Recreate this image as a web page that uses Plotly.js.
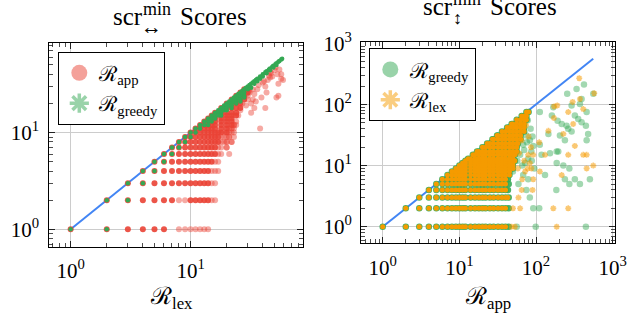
<!DOCTYPE html>
<html><head><meta charset="utf-8">
<script src="https://cdn.plot.ly/plotly-3.0.1.min.js"></script>
<style>html,body{margin:0;padding:0;background:#fff}#chart{width:630px;height:320px}</style>
</head><body><div id="chart"></div>
<script>
// ================= DATA =================
// ---- Left panel: x = R_lex, y = R_app (red) / R_greedy (green) ----
const appRowY = [1,2,3,4,5,6,7,8,9,10,11,12,13,14,15,16,18,20,22,24,26,28];
const appRowX = [
  [1,2,3,4,5,6],
  [2,3,4,5,6,7,10,11,12,13,14],
  [3,4,5,6,7,8,9,10,11,12,13,14],
  [4,5,6,7,8,9,10,11,12,13,14],
  [5,6,7,8,9,10,11,12,13,14,15],
  [6,7,8,9,10,11,12,13,14,15,16],
  [7,8,9,10,11,12,13,14,15,16],
  [8,9,10,11,12,13,14,15,16,17],
  [9,10,11,12,13,14,15,16,17],
  [10,11,12,13,14,15,16,17,18,20],
  [11,12,13,14,15,16,18,20],
  [12,13,14,15,16,18,20,22],
  [13,14,15,16,18,20,22],
  [14,15,16,18,20,22],
  [15,16,18,20,22,24],
  [16,18,20,22,24],
  [18,20,22,24,26],
  [20,22,24,26],
  [22,24,26,28],
  [24,26,28],
  [26,28,30],
  [28,30]
];
const appFaintRowY = [1,2,3,4,5,6,7,8,9,10,11,12];
const appFaintRowX = [
  [8,9,10,11,12,13,14],[8,9,15,16],[15,16],[15,16,17],[16,17],[17,18],
  [17,18,20],[18,19,20,22],[18,19,20,21],[19,21,22,23],[21,22,23],[23,24]
];
const appScatter = [
  [29,19],[30,24],[31,27],[32,16],[33,22],[34,25],[34,18],[35,21],[36,28],[38,11],
  [39,23],[40,33],[42,18],[42,30],[43,26],[44,35],[46,37],[46,42],[48,38],[50,44],
  [52,23],[53,40],[54,24],[54,32],[55,45],[57,36],[57,40],[59,35],[51,47],[47,41],
  [45,39],[41,34],[37,31],[33,28],[31,26],[29,25],[30,22],[32,20],[27,20],[26,17],
  [25,15],[24,13],[23,12],[22,11],[20,8],[22,8],[21,9],[23,9],[20,7],[21,6]
];
const greedyLeft = [
  [1,1],[2,1],[2,2],[3,2],[3,3],[4,3],[4,4],[5,4],[5,5],[6,5],[6,6],[7,6],[7,7],[8,7],
  [8,8],[9,8],[9,9],[10,9],[10,10],[11,10],[11,11],[12,11],[12,12],[13,12],[13,13],
  [14,13],[14,12],[14,14],[15,14],[15,13],[15,15],[16,15],[16,14],[16,16],[17,16],
  [17,15],[17,17],[18,18],[18,17],[18,16],[18,15],[19,19],[19,18],[19,17],[20,20],[20,19],
  [20,18],[20,17],[21,21],[21,19],[22,22],[22,20],[22,19],[22,18],[23,23],[23,21],[24,24],
  [24,22],[24,21],[24,20],[25,25],[25,23],[26,26],[26,24],[26,22],[26,21],[27,27],[27,25],
  [28,28],[28,26],[28,24],[28,23],[29,29],[30,30],[30,28],[31,31],[32,32],[32,29],[33,33],
  [34,34],[34,32],[35,35],[36,36],[36,34],[38,38],[38,36],[40,40],[40,38],[42,42],
  [43,43],[43,41],[45,45],[46,46],[46,44],[48,48],[49,49],[49,47],[51,51],[52,52],
  [52,50],[54,54],[55,55],[57,57],[58,58]
];
const diagLeft = [1, 58];

// ---- Right panel: x = R_app, y = R_greedy (green) / R_lex (orange) ----
const lexRowY = [1,2,3,4,5,6,7,8,9,10,11,12,13,15,17,20,23,27,31,36,42,48,56,65,75];
const lexRowX = [
  [1,2,3,4,5,6,7,8,9,10,11,12,14,16,18,20,22,25,28,32,36,40],
  [2,3,4,5,6,7,8,9,10,11,12,14,16,18,20,22,25,28,32,36,40],
  [3,4,5,6,7,8,9,10,11,12,14,16,18,20,22,25,28,32,36,40,43],
  [4,5,6,7,8,9,10,11,12,14,16,18,20,22,25,28,32,36,40],
  [5,6,7,8,9,10,11,12,14,16,18,20,22,25,28,32,36,40],
  [6,7,8,9,10,11,12,14,16,18,20,22,25,28,32,36,40],
  [7,8,9,10,11,12,14,16,18,20,22,25,28,32,36,40,45],
  [8,9,10,11,12,14,16,18,20,22,25,28,32,36,40,45],
  [9,10,11,12,14,16,18,20,22,25,28,32,36,40,45,50],
  [10,11,12,14,16,18,20,22,25,28,32,36,40,45,50],
  [11,12,14,16,18,20,22,25,28,32,36,40,45,50],
  [12,14,16,18,20,22,25,28,32,36,40,45,50,53],
  [13,14,16,18,20,22,25,28,32,36,40,45,50],
  [15,16,18,20,22,25,28,32,36,40,45,50,53],
  [17,18,20,22,25,28,32,36,40,45,50,56],
  [20,22,25,28,32,36,40,45,50,56],
  [23,25,28,32,36,40,45,50,56,58],
  [27,28,32,36,40,45,50,56,63],
  [31,32,36,40,45,50,56,63],
  [36,40,45,50,56,63,70],
  [42,45,50,56,63,70],
  [48,50,56,63,70],
  [56,63,70,75],
  [65,70,75],
  [75,80]
];
const greedyRowY = [1,2,3,4,5,6,7,8,9,10,11,12,13,15,17,20,23,27,31,36,42,48,56,65,75];
const greedyRowX = [
  [1,2,3,4,5,6,7,8,9,10,11,12,14,16,18,20,22,25,28,32,36,40,44],
  [2,3,4,5,6,7,8,9,10,11,12,14,16,18,20,22,25,28,32,36,40,44],
  [3,4,5,6,7,8,9,10,11,12,14,16,18,20,22,25,28,32,36,40,44],
  [4,5,6,7,8,9,10,11,12,14,16,18,20,22,25,28,32,36,40,43],
  [5,6,7,8,9,10,11,12,14,16,18,20,22,25,28,32,36,40,44],
  [6,7,8,9,10,11,12,14,16,18,20,22,25,28,32,36,40,43],
  [7,8,9,10,11,12,14,16,18,20,22,25,28,32,36,40,45],
  [8,9,10,11,12,14,16,18,20,22,25,28,32,36,40,45],
  [9,10,11,12,14,16,18,20,22,25,28,32,36,40,45,50],
  [10,11,12,14,16,18,20,22,25,28,32,36,40,45,50],
  [11,12,14,16,18,20,22,25,28,32,36,40,45,50],
  [12,14,16,18,20,22,25,28,32,36,40,45,50,53],
  [13,14,16,18,20,22,25,28,32,36,40,45,50],
  [15,16,18,20,22,25,28,32,36,40,45,50,53],
  [17,18,20,22,25,28,32,36,40,45,50,56],
  [20,22,25,28,32,36,40,45,50,56],
  [23,25,28,32,36,40,45,50,56,58],
  [27,28,32,36,40,45,50,56,63],
  [31,32,36,40,45,50,56,63],
  [36,40,45,50,56,63,70],
  [42,45,50,56,63,70],
  [48,50,56,63,70],
  [56,63,70,75],
  [65,70,75],
  [75,80]
];
const greedyScatter = [
  [50,37],[62,42],[75,31],[83,26],[87,17],[68,22],[62,15],[79,13],[50,8],[68,7],[59,5],
  [75,4],[83,3],[92,2],[56,1],[79,6],[72,11],[92,21],[55,45],[60,52],[66,48],[72,60],
  [78,55],[85,40],[90,30],[58,28],[64,35],[70,18],[76,24],[88,12],[95,9],[52,20],[57,12],
  [66,10],[112,75],[168,90],[161,66],[191,54],[216,48],[255,149],[338,179],[422,212],
  [558,149],[393,123],[374,102],[457,75],[291,96],[321,66],[355,58],[250,45],[263,40],
  [205,31],[186,17],[145,33],[152,16],[118,15],[112,22],[186,11],[227,10],[272,9],
  [238,6],[272,5],[321,6],[374,5],[504,6],[184,4],[131,7],[110,2],[99,1],[447,1],
  [457,26],[478,33],[447,45],[393,51],[291,36],[238,26],[195,17]
];
const lexScatter = [
  [56,33],[65,26],[79,15],[83,11],[72,8],[92,6],[65,4],[62,2],[50,2],[48,1],[53,1],
  [59,3],[87,9],[54,42],[62,50],[68,38],[74,46],[80,30],[86,20],[60,16],[70,12],[78,9],
  [92,15],[58,9],[66,6],[90,4],[171,60],[189,96],[263,75],[305,48],[374,123],[413,84],
  [227,33],[263,15],[321,21],[413,15],[457,9],[131,15],[112,8],[216,7],[168,2],[263,2],
  [186,1],[558,10],[366,268],[110,24],[145,37],[172,93],[457,15],[574,152],[300,110]
];
const diagRight = [1, 557];

// ---- ticks ----
const tickValsL = [1, 10];
const tickTextL = ['10<sup>0</sup>', '10<sup>1</sup>'];
const minorL = [0.7,0.8,0.9,2,3,4,5,6,7,8,9,20,30,40,50,60,70,80];
const tickValsR = [1, 10, 100, 1000];
const tickTextR = ['10<sup>0</sup>', '10<sup>1</sup>', '10<sup>2</sup>', '10<sup>3</sup>'];
const minorR = [0.6,0.7,0.8,0.9,2,3,4,5,6,7,8,9,20,30,40,50,60,70,80,90,200,300,400,500,600,700,800,900];

// ================= RENDER =================
const RED = '#ea4335', GREEN = '#34a853', BLUE = '#4285f4', ORANGE = '#f59b00';
const FONT = '"Liberation Serif", "DejaVu Serif", serif';

function rows(rowY, rowX) {
  const x = [], y = [];
  rowX.forEach((r, i) => r.forEach(v => { x.push(v); y.push(rowY[i]); }));
  return {x, y};
}
function pairs(p) { return {x: p.map(d => d[0]), y: p.map(d => d[1])}; }
function pts(d, ax, ay, marker) {
  return {x: d.x, y: d.y, type: 'scatter', mode: 'markers', xaxis: ax, yaxis: ay,
          marker: marker, showlegend: false, hoverinfo: 'skip'};
}
function legendItem(name, color, symbol, lg, ax, ay) {
  const m = {symbol: symbol, size: 16, color: color, opacity: 0.5};
  if (symbol === 'asterisk-open') m.line = {color: color, width: 3.5};
  return {x: [null], y: [null], type: 'scatter', mode: 'markers', name: name, marker: m,
          legend: lg, xaxis: ax, yaxis: ay, showlegend: true, hoverinfo: 'skip'};
}

const appSolid = rows(appRowY, appRowX);
const appFaintRows = rows(appFaintRowY, appFaintRowX);
const appSc = pairs(appScatter);
const appFaint = {x: appFaintRows.x.concat(appSc.x), y: appFaintRows.y.concat(appSc.y)};
const grL = pairs(greedyLeft);
const grSolid = rows(greedyRowY, greedyRowX);
const grSc = pairs(greedyScatter);
const lxSolid = rows(lexRowY, lexRowX);
const lxSc = pairs(lexScatter);

const traces = [
  {x: diagLeft, y: diagLeft, type: 'scatter', mode: 'lines', xaxis: 'x', yaxis: 'y',
   line: {color: BLUE, width: 2}, showlegend: false, hoverinfo: 'skip'},
  pts(appSolid, 'x', 'y', {color: RED, size: 6, opacity: 0.9}),
  pts(appFaint, 'x', 'y', {color: RED, size: 6, opacity: 0.45}),
  pts(grL, 'x', 'y', {color: GREEN, size: 4.5, opacity: 1}),
  legendItem('ℛ<sub>app</sub>', RED, 'circle', 'legend', 'x', 'y'),
  legendItem('ℛ<sub>greedy</sub>', GREEN, 'asterisk-open', 'legend', 'x', 'y'),

  {x: diagRight, y: diagRight, type: 'scatter', mode: 'lines', xaxis: 'x2', yaxis: 'y2',
   line: {color: BLUE, width: 2}, showlegend: false, hoverinfo: 'skip'},
  pts(grSolid, 'x2', 'y2', {color: GREEN, size: 6.5, opacity: 0.9}),
  pts(grSc, 'x2', 'y2', {color: GREEN, size: 6.5, opacity: 0.45}),
  pts(lxSolid, 'x2', 'y2', {color: ORANGE, size: 5, opacity: 1}),
  pts(lxSc, 'x2', 'y2', {symbol: 'asterisk-open', color: ORANGE, size: 5, opacity: 0.55,
                         line: {color: ORANGE, width: 1.6}}),
  legendItem('ℛ<sub>greedy</sub>', GREEN, 'circle', 'legend2', 'x2', 'y2'),
  legendItem('ℛ<sub>lex</sub>', ORANGE, 'asterisk-open', 'legend2', 'x2', 'y2')
];

function axis(extra, tv, tt, minorVals, standoff) {
  return Object.assign({
    type: 'log', showline: true, linecolor: '#000', linewidth: 1, mirror: 'allticks',
    ticks: 'inside', ticklen: 6, tickwidth: 1, tickcolor: '#222',
    showgrid: true, gridcolor: '#cccccc', gridwidth: 1, zeroline: false,
    tickmode: 'array', tickvals: tv, ticktext: tt, ticklabelstandoff: standoff,
    tickfont: {family: FONT, size: 21, color: '#000'},
    minor: {tickmode: 'array', tickvals: minorVals, ticks: 'inside', ticklen: 4,
            tickwidth: 0.8, tickcolor: '#222', showgrid: false},
    fixedrange: true
  }, extra);
}

const W = 630, H = 320;
const px = v => v / W, py = v => 1 - v / H;
const legendBase = {xanchor: 'left', yanchor: 'top', bgcolor: '#fff', bordercolor: '#000',
  borderwidth: 1, font: {family: FONT, size: 21, color: '#000'}, itemsizing: 'trace',
  tracegroupgap: 0};

function ann(text, x, y, size, xanchor) {
  return {text: text, x: px(x), y: py(y), xref: 'paper', yref: 'paper',
    showarrow: false, xanchor: xanchor || 'center', yanchor: 'middle', borderpad: 0,
    font: {family: FONT, size: size, color: '#000'}};
}

const layout = {
  width: W, height: H, margin: {l: 0, r: 0, t: 0, b: 0},
  paper_bgcolor: '#fff', plot_bgcolor: '#fff', showlegend: true,
  xaxis: axis({domain: [px(49.3), px(302.7)], range: [-0.178, 1.935], anchor: 'y'},
              tickValsL, tickTextL, minorL, 5),
  yaxis: axis({domain: [py(246.7), py(43.3)], range: [-0.18, 1.923], anchor: 'x'},
              tickValsL, tickTextL, minorL, 5),
  xaxis2: axis({domain: [px(361), px(615)], range: [-0.283, 3.03], anchor: 'y2'},
               tickValsR, tickTextR, minorR, 5),
  yaxis2: axis({domain: [py(243.3), py(42.3)], range: [-0.27, 3.016], anchor: 'x2'},
               tickValsR, tickTextR, minorR, 4),
  legend: Object.assign({x: px(58.3), y: py(51.7)}, legendBase),
  legend2: Object.assign({x: px(369.3), y: py(48.3)}, legendBase),
  annotations: [
    // left title: scr^min_<-> Scores
    ann('scr', 144, 17, 25, 'right'),
    ann('min', 142, 9, 18, 'left'),
    ann('↔', 151, 27, 21),
    ann('Scores', 179, 17, 25, 'left'),
    // right title: scr^min_updown Scores
    ann('scr', 454, 7, 25, 'right'),
    ann('min', 452, -1, 18, 'left'),
    ann('↕', 457, 18, 18),
    ann('Scores', 489, 7, 25, 'left'),
    // axis titles
    ann('ℛ<sub>lex</sub>', 172, 298, 24),
    ann('ℛ<sub>app</sub>', 487.5, 298, 24)
  ]
};

Plotly.newPlot('chart', traces, layout, {staticPlot: true, displayModeBar: false});
</script>
</body></html>
